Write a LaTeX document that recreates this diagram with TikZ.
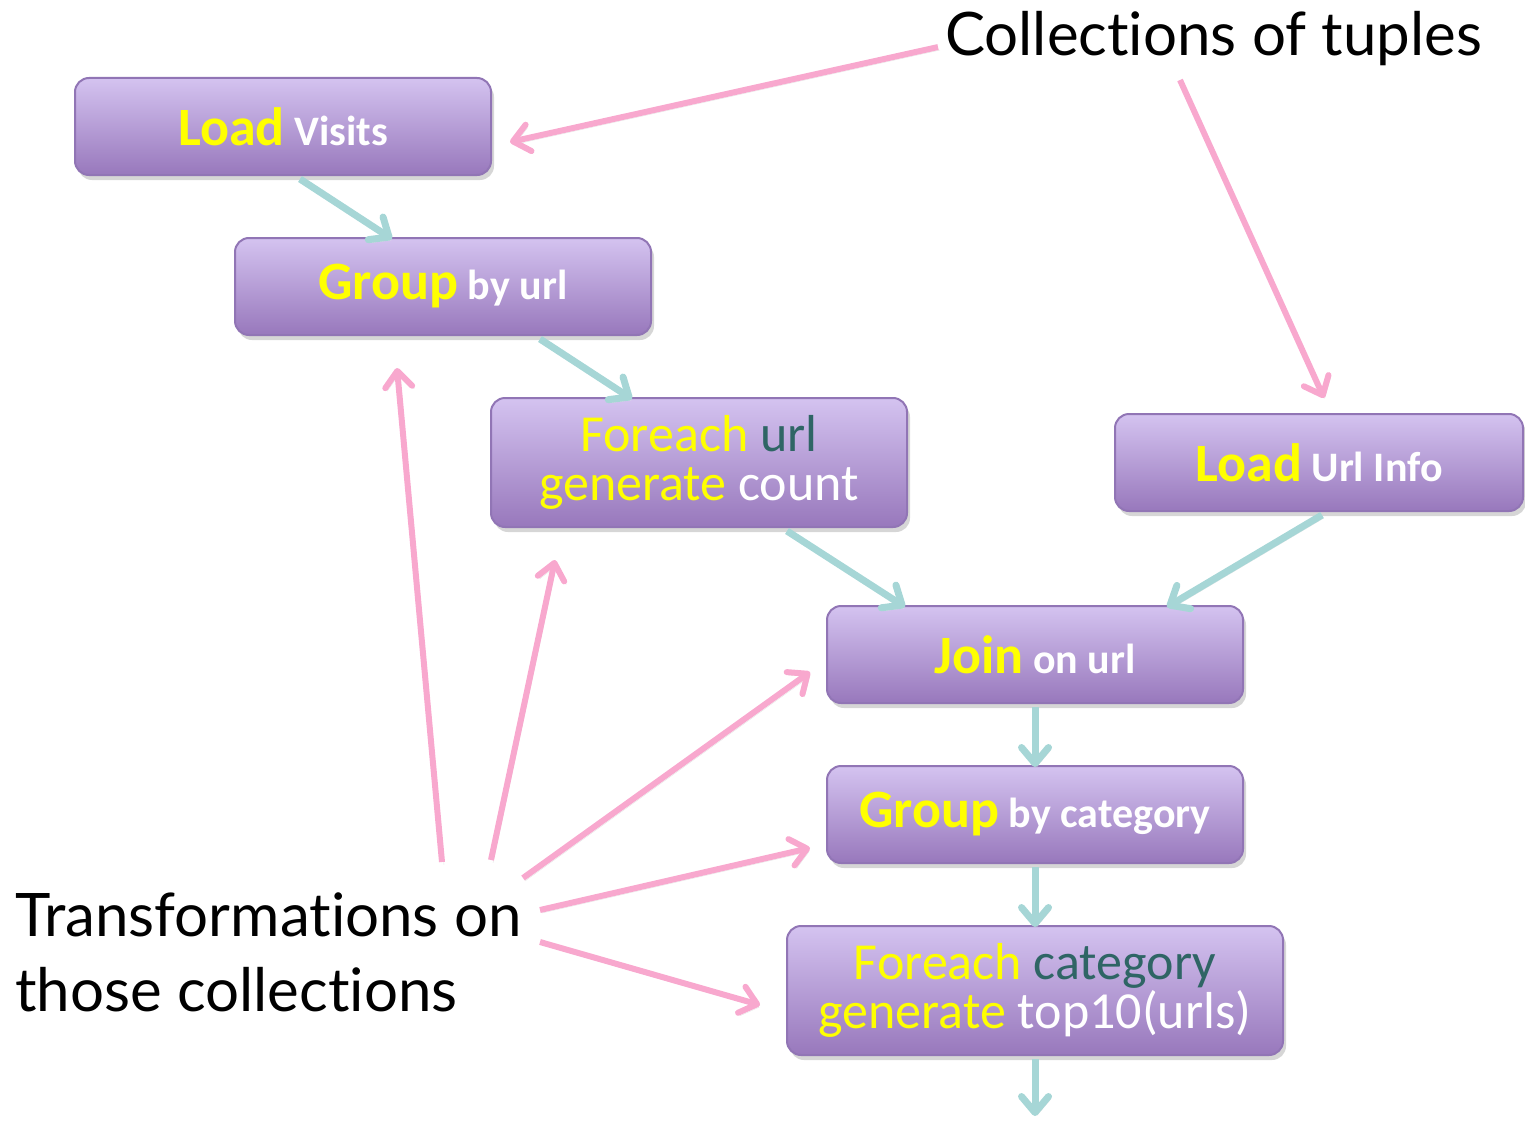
\documentclass[tikz,border=0pt]{standalone}
\usepackage{fontspec}
\setmainfont{Carlito}
\newfontfamily\notefont[Ligatures=NoCommon]{Lato}
\usetikzlibrary{arrows.meta,shadows}
\definecolor{boxtop}{HTML}{D4C3F0}
\definecolor{boxbot}{HTML}{9878BC}
\definecolor{boxline}{HTML}{9175B5}
\definecolor{kw}{HTML}{FFFF00}
\definecolor{argdark}{HTML}{2F6565}
\definecolor{flow}{HTML}{A6D6D6}
\definecolor{note}{HTML}{F8A8CE}
% keyword / argument styles inside the operator boxes
\newcommand\opkw[1]{{\fontsize{54}{60}\selectfont\color{kw}#1}}
\newcommand\oparg[1]{{\color{white}#1}}
\newcommand\lkw[1]{{\color{kw}#1}}
\begin{document}
\begin{tikzpicture}[x=1pt,y=-1pt,
  opbox/.style={draw=boxline, line width=2pt, rounded corners=14pt,
    top color=boxtop, bottom color=boxbot, minimum width=416pt,
    minimum height=97pt, inner sep=0pt, align=center,
    font=\fontsize{42}{46}\selectfont\bfseries,
    drop shadow={shadow xshift=3pt, shadow yshift=-5pt, fill=black!16, opacity=1}},
  longbox/.style={opbox, minimum height=129pt,
    font=\fontsize{52}{49}\selectfont\mdseries},
  softshadow/.style={preaction={draw=black!10, transform canvas={shift={(2pt,-3pt)}}}},
  flowarrow/.style={softshadow, draw=flow, line width=7pt,
    -{Straight Barb[length=16pt,width=27pt,line cap=round,line join=round]}},
  notearrow/.style={softshadow, draw=note, line width=6pt,
    -{Straight Barb[length=16pt,width=27pt,line cap=round,line join=round]}},
  notelabel/.style={font=\notefont\fontsize{60}{75}\selectfont, inner sep=0pt, align=left}]
\useasboundingbox (0,0) rectangle (1525,1121);

% operator boxes
\node[opbox] (lv) at (283,126.5) {\opkw{Load} \oparg{Visits}};
\node[opbox] (gu) at (443,286.5) {\opkw{Group} \oparg{by url}};
\node[longbox] (fu) at (699,462.5) {\lkw{Foreach} {\color{argdark}url}\\\lkw{generate} {\color{white}count}};
\node[opbox, minimum width=408pt] (lu) at (1319,462.5) {\opkw{Load} \oparg{Url Info}};
\node[opbox] (jo) at (1035,654.5) {\opkw{Join} \oparg{on url}};
\node[opbox] (gc) at (1035,814.5) {\opkw{Group} \oparg{by category}};
\node[longbox, minimum width=496pt] (fc) at (1035,990.5) {\lkw{Foreach} {\color{argdark}category}\\\lkw{generate} {\color{white}top10(urls)}};
\coordinate (out) at (1035,1116);

% data flow between the operators
\draw[flowarrow] ([xshift=17pt,yshift=-3pt]lv.south) -- ([xshift=-51pt,yshift=-2pt]gu.north);
\draw[flowarrow] ([xshift=97pt,yshift=-3pt]gu.south) -- ([xshift=-67pt,yshift=-2pt]fu.north);
\draw[flowarrow] ([xshift=88pt,yshift=-3pt]fu.south) -- ([xshift=-130pt,yshift=-2pt]jo.north);
\draw[flowarrow] ([xshift=3pt,yshift=-3pt]lu.south) -- ([xshift=132pt,yshift=-2pt]jo.north);
\draw[flowarrow] ([yshift=-3pt]jo.south) -- ([yshift=-2pt]gc.north);
\draw[flowarrow] ([yshift=-3pt]gc.south) -- ([yshift=-2pt]fc.north);
\draw[flowarrow] ([yshift=-3pt]fc.south) -- (out);

% annotations
\node[notelabel, anchor=base west] (coll) at (945,56) {Collections of tuples};
\node[notelabel, anchor=north west] (trans) at (15,893) {Transformations on\\those collections};

\coordinate (c1) at (510,142);
\coordinate (c2) at (1324,398);
\coordinate (t1) at (397,368);
\coordinate (t2) at (555,560);
\coordinate (t3) at (810,672);
\coordinate (t4) at (810,848);
\coordinate (t5) at (760,1005);

\draw[notearrow] ([xshift=-7pt,yshift=-8pt]coll.west) -- (c1);
\draw[notearrow] (1180,80) -- (c2);
\draw[notearrow] (442,862) -- (t1);
\draw[notearrow] (491,860) -- (t2);
\draw[notearrow] (523,878) -- (t3);
\draw[notearrow] (540,910) -- (t4);
\draw[notearrow] (540,942) -- (t5);
\end{tikzpicture}
\end{document}
